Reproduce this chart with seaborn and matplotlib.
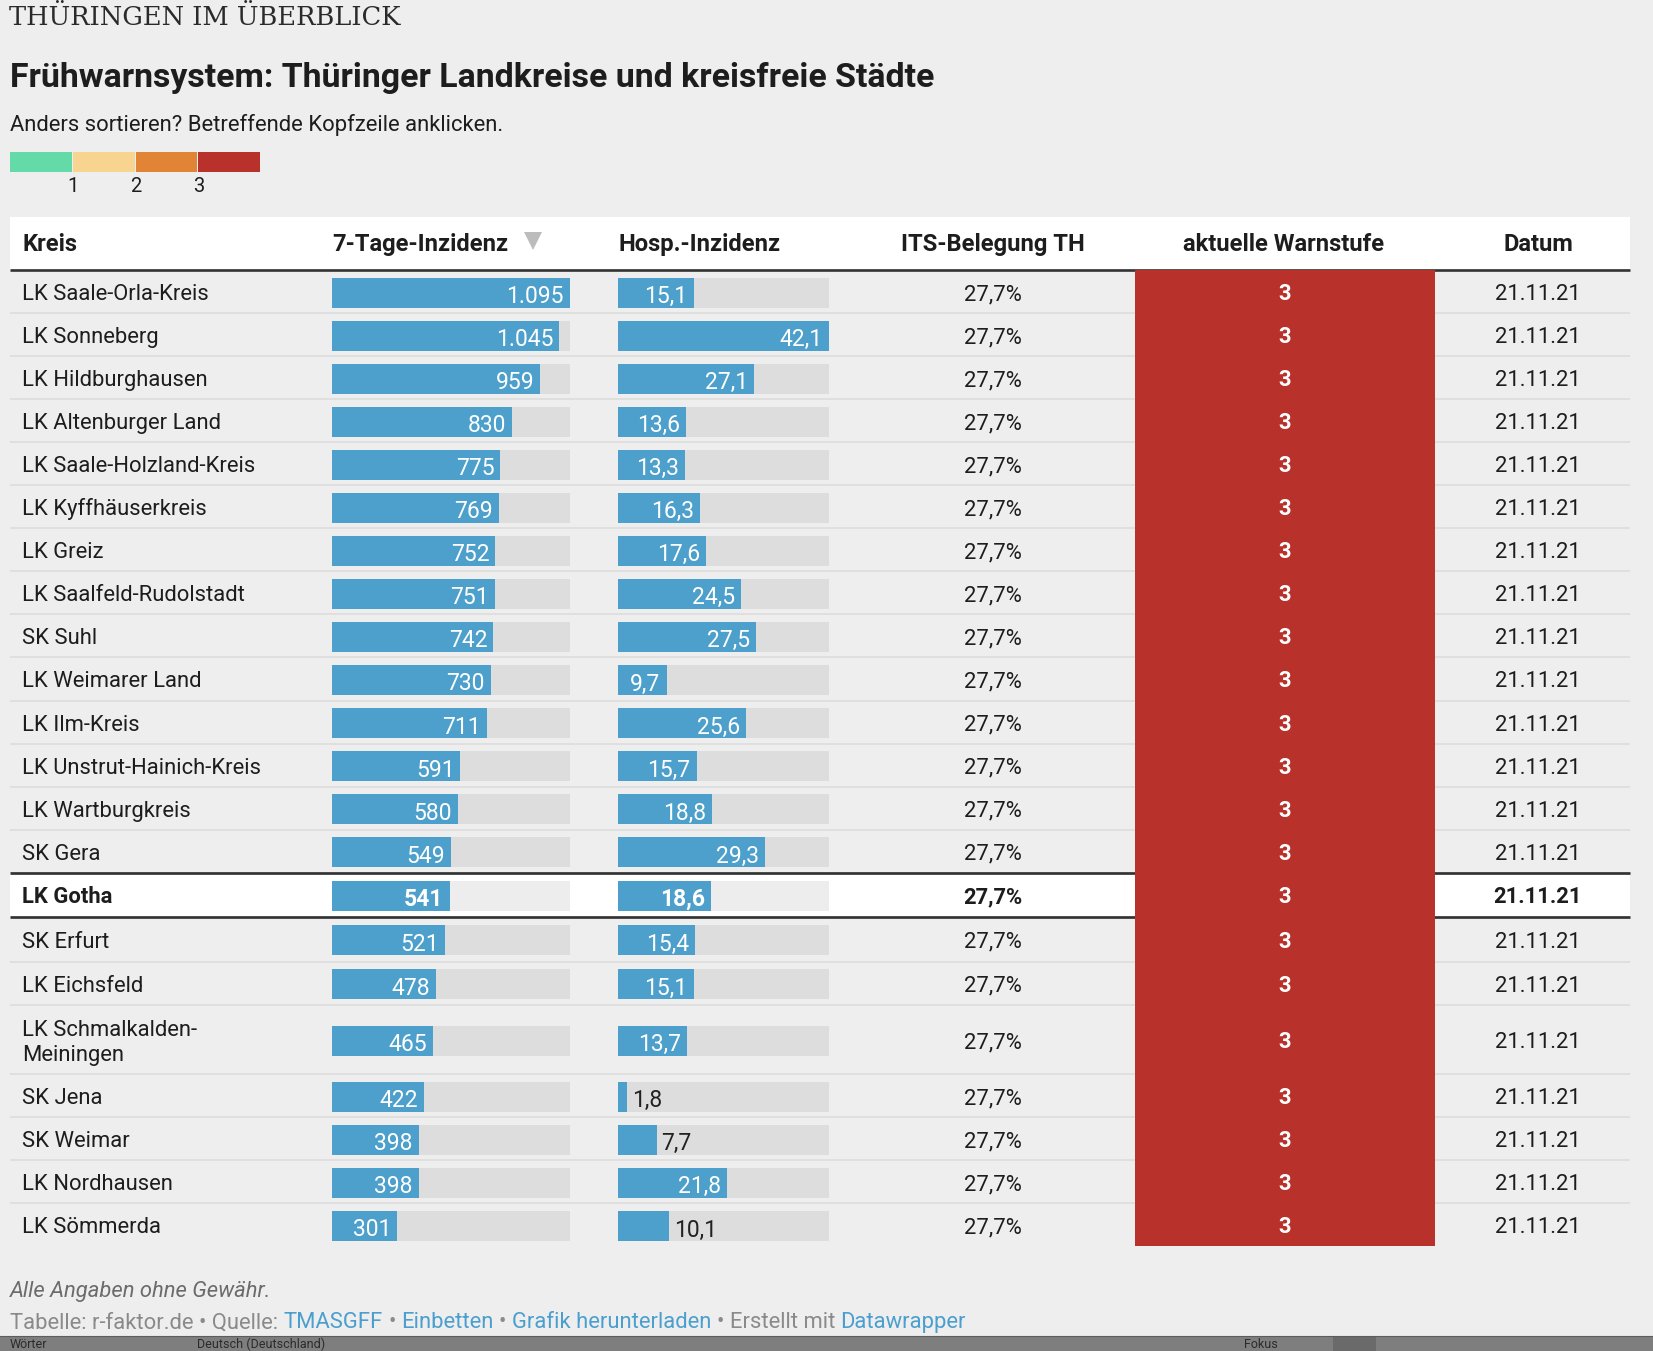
import textwrap
import numpy as np
import pandas as pd
import matplotlib
matplotlib.use("Agg")
import matplotlib.pyplot as plt
import seaborn as sns
from matplotlib.patches import Rectangle

# ---- data ----
kreise = ["LK Saale-Orla-Kreis", "LK Sonneberg", "LK Hildburghausen", "LK Altenburger Land",
          "LK Saale-Holzland-Kreis", "LK Kyffhäuserkreis", "LK Greiz", "LK Saalfeld-Rudolstadt",
          "SK Suhl", "LK Weimarer Land", "LK Ilm-Kreis", "LK Unstrut-Hainich-Kreis",
          "LK Wartburgkreis", "SK Gera", "LK Gotha", "SK Erfurt", "LK Eichsfeld",
          "LK Schmalkalden-Meiningen", "SK Jena", "SK Weimar", "LK Nordhausen", "LK Sömmerda"]
inzidenz = [1095, 1045, 959, 830, 775, 769, 752, 751, 742, 730, 711,
            591, 580, 549, 541, 521, 478, 465, 422, 398, 398, 301]
hosp_inzidenz = [15.1, 42.1, 27.1, 13.6, 13.3, 16.3, 17.6, 24.5, 27.5, 9.7, 25.6,
                 15.7, 18.8, 29.3, 18.6, 15.4, 15.1, 13.7, 1.8, 7.7, 21.8, 10.1]
its_belegung = [27.7, 27.7, 27.7, 27.7, 27.7, 27.7, 27.7, 27.7, 27.7, 27.7, 27.7,
                27.7, 27.7, 27.7, 27.7, 27.7, 27.7, 27.7, 27.7, 27.7, 27.7, 27.7]
warnstufe = [3, 3, 3, 3, 3, 3, 3, 3, 3, 3, 3, 3, 3, 3, 3, 3, 3, 3, 3, 3, 3, 3]
datum = ["21.11.21"] * 22
hervorgehoben = "LK Gotha"

spalten = ["Kreis", "7-Tage-Inzidenz", "Hosp.-Inzidenz", "ITS-Belegung TH", "aktuelle Warnstufe", "Datum"]
stufen_labels = ["1", "2", "3"]
stufen_farben = ["#63daa8", "#f7d590", "#e28436", "#b8312a"]

BLUE = "#4ca0cb"
TXT = "#1d1d1d"
BG = "#eeeeee"
FS = 15.8      # table body text
FS_BAR = 16.5  # value labels in the bars
FS_HEAD = 17.1


def de_int(v):
    return f"{v:,}".replace(",", ".")


def de_dec(v):
    return f"{v:.1f}".replace(".", ",")


sns.set_theme(style="white")
plt.rcParams["font.family"] = ["Roboto", "DejaVu Sans"]

W, H = 1653, 1351
fig = plt.figure(figsize=(W / 100, H / 100), dpi=100, facecolor=BG)
bg = fig.add_axes([0, 0, 1, 1], facecolor=BG)
bg.set_xlim(0, W)
bg.set_ylim(H, 0)
bg.axis("off")
renderer = fig.canvas.get_renderer()


def text_width(s, **kw):
    t = bg.text(0, 0, s, **kw)
    w = t.get_window_extent(renderer).width
    t.remove()
    return w


# ---- heading ----
bg.text(9, 25, "THÜRINGEN IM ÜBERBLICK", family="DejaVu Serif", fontsize=18.5, color="#2a2a2a", va="baseline")
bg.text(10, 87.3, "Frühwarnsystem: Thüringer Landkreise und kreisfreie Städte",
        fontsize=24.4, fontweight="bold", color=TXT, va="baseline")
bg.text(10, 131, "Anders sortieren? Betreffende Kopfzeile anklicken.", fontsize=15.8, color=TXT, va="baseline")

# colour key
kx, kw = 10, 62.8
for i, c in enumerate(stufen_farben):
    bg.add_patch(Rectangle((kx + i * kw, 152), kw - 1, 20, color=c, lw=0))
for i, lab in enumerate(stufen_labels):
    bg.text(kx + (i + 1) * kw, 191.7, lab, fontsize=14.5, color=TXT, ha="center", va="baseline")

# ---- table layout ----
n = len(kreise)
names = [textwrap.wrap(k, 24) for k in kreise]
hl = kreise.index(hervorgehoben)
heights = np.array([43.05 + 26.4 * (len(nm) - 1) for nm in names])
heights[hl] += 1
heights[hl + 1] += 2
top = 270.0
bounds = top + np.concatenate([[0], np.cumsum(heights)])
centers = (bounds[:-1] + bounds[1:]) / 2
L, R = 10, 1630

# header
bg.add_patch(Rectangle((L, 217), R - L, 52, color="white", lw=0))
bg.plot([L, R], [270.2, 270.2], color="#333333", lw=1.9, solid_capstyle="butt")
hb = 250.7
bg.text(22, hb, spalten[0], fontsize=FS_HEAD, fontweight="bold", color=TXT, va="baseline")
bg.text(332, hb, spalten[1], fontsize=FS_HEAD, fontweight="bold", color=TXT, va="baseline")
bg.text(618, hb, spalten[2], fontsize=FS_HEAD, fontweight="bold", color=TXT, va="baseline")
bg.text(993, hb, spalten[3], fontsize=FS_HEAD, fontweight="bold", color=TXT, va="baseline", ha="center")
bg.text(1284, hb, spalten[4], fontsize=FS_HEAD, fontweight="bold", color=TXT, va="baseline", ha="center")
bg.text(1538, hb, spalten[5], fontsize=FS_HEAD, fontweight="bold", color=TXT, va="baseline", ha="center")
bg.plot([532.5], [240.5], marker="v", ms=13.5, mew=0, color="#bcbcbc")

# highlighted row background
bg.add_patch(Rectangle((L, bounds[hl]), R - L, heights[hl], color="white", lw=0, zorder=0.5))

# warnstufe column
ax_w = fig.add_axes([1135 / W, 0, 300 / W, 1])
ax_w.set_xlim(0, 1)
ax_w.set_ylim(H, 0)
ax_w.axis("off")
ax_w.barh(centers, 1, height=heights, color=[stufen_farben[s] for s in warnstufe], lw=0)
for c, s in zip(centers, warnstufe):
    ax_w.text(0.5, c + 8.5, str(s), color="white", fontsize=FS, fontweight="bold", ha="center", va="baseline")

# row separators and highlight borders
for i in range(1, n):
    if i in (hl, hl + 1):
        bg.plot([L, R], [bounds[i], bounds[i]], color="#333333", lw=1.95, solid_capstyle="butt", zorder=5)
    else:
        bg.plot([L, R], [bounds[i], bounds[i]], color="black", alpha=0.07, lw=1.3, solid_capstyle="butt", zorder=5)

# text columns
for i in range(n):
    fw = "bold" if i == hl else "normal"
    # multi-line text: baseline alignment refers to the last line
    bg.text(22, centers[i] + 8.5 + 12.7 * (len(names[i]) - 1), "\n".join(names[i]),
            fontsize=FS, color=TXT, va="baseline", fontweight=fw, linespacing=1.22)
    bg.text(993, centers[i] + 8.5, de_dec(its_belegung[i]) + "%", fontsize=FS, color=TXT,
            ha="center", va="baseline", fontweight=fw)
    bg.text(1538, centers[i] + 8.5, datum[i], fontsize=FS, color=TXT,
            ha="center", va="baseline", fontweight=fw)

# bar columns
df = pd.DataFrame({"kreis": kreise, "inzidenz": inzidenz, "hosp": hosp_inzidenz, "y": centers + 1})
bw = 30 / np.min(np.diff(df["y"]))


def bar_column(x0, x1, col, fmt):
    ax = fig.add_axes([x0 / W, 0, (x1 - x0) / W, 1])
    vmax = df[col].max()
    df["track"] = vmax
    sns.barplot(data=df, x="track", y="y", orient="h", native_scale=True, width=bw,
                color="black", alpha=0.07, saturation=1, linewidth=0, errorbar=None, ax=ax)
    sns.barplot(data=df, x=col, y="y", orient="h", native_scale=True, width=bw,
                color=BLUE, saturation=1, linewidth=0, errorbar=None, ax=ax)
    ax.set_xlim(0, vmax)
    ax.set_ylim(H, 0)
    ax.axis("off")
    for i, (v, c) in enumerate(zip(df[col], df["y"])):
        s = fmt(v)
        fw = "bold" if i == hl else "normal"
        bar_px = v / vmax * (x1 - x0)
        inside = text_width(s, fontsize=FS_BAR, fontweight=fw) + 14 < bar_px
        ax.annotate(s, xy=(v, c + 10.5), xytext=(-6 if inside else 5, 0), textcoords="offset pixels",
                    ha="right" if inside else "left", va="baseline", fontsize=FS_BAR, fontweight=fw,
                    color="white" if inside else "#222222", annotation_clip=False)
    return ax


bar_column(332, 570, "inzidenz", de_int)
bar_column(618, 829, "hosp", de_dec)

# ---- footer ----
bg.text(10, 1296.7, "Alle Angaben ohne Gewähr.", fontsize=15.8, style="italic", color="#6b6b6b", va="baseline")
GRAY, LINK = "#8a8a8a", "#4a9fcf"
pieces = [("Tabelle: r-faktor.de • Quelle:", GRAY), ("TMASGFF", LINK), ("•", GRAY), ("Einbetten", LINK),
          ("•", GRAY), ("Grafik herunterladen", LINK), ("• Erstellt mit", GRAY), ("Datawrapper", LINK)]
full = ""
for s, col in pieces:
    full = full + " " + s if full else s
    x_end = 10 + text_width(full, fontsize=15.8)
    bg.text(x_end - text_width(s, fontsize=15.8), 1328.3, s, fontsize=15.8, color=col, va="baseline")

# window status bar at the bottom edge of the screenshot
bg.add_patch(Rectangle((0, 1336), W, 20, color="#7e7e7e", lw=0))
bg.plot([0, W], [1336.3, 1336.3], color="#5c5c5c", lw=0.8)
bg.add_patch(Rectangle((1333, 1337), 43, 20, color="#6a6a6a", lw=0))
for x, s in [(10, "Wörter"), (197, "Deutsch (Deutschland)"), (1244, "Fokus")]:
    bg.text(x, 1344, s, fontsize=9, color="#2b2b2b", va="center")

fig.savefig("out.png", dpi=100, facecolor=fig.get_facecolor())
